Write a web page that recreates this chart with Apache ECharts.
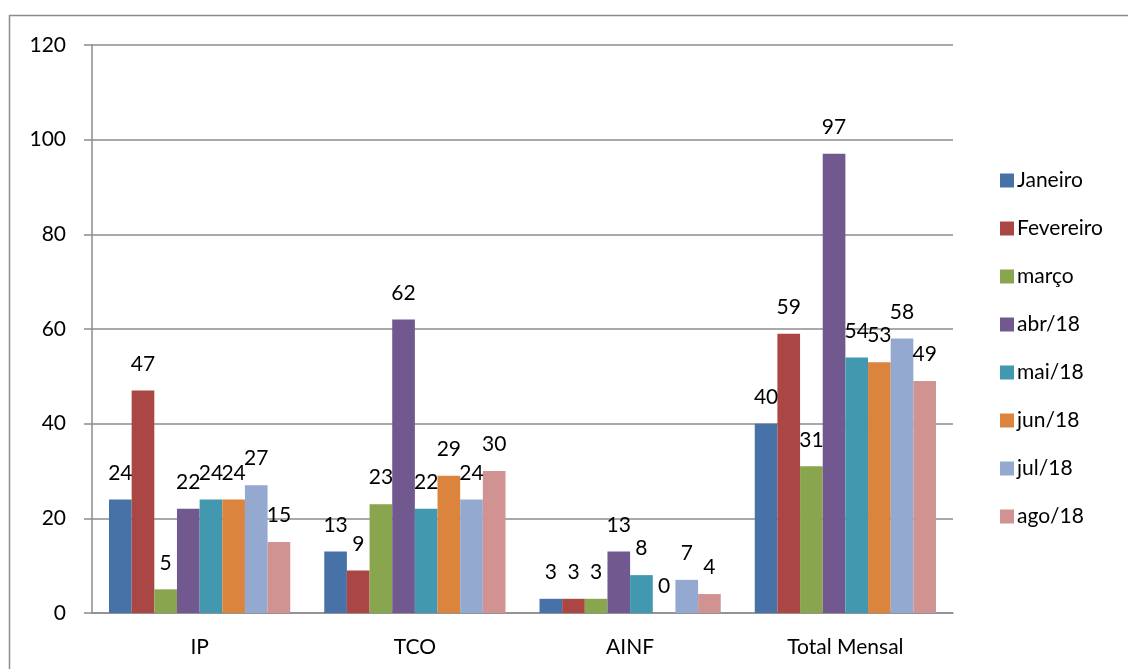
<!DOCTYPE html>
<html><head><meta charset="utf-8">
<script src="https://cdn.jsdelivr.net/npm/echarts@6/dist/echarts.min.js"></script>
<style>html,body{margin:0;padding:0;background:#fff}#c{width:1128px;height:669px}</style>
</head><body><div id="c"></div>
<script>
const categories = ['IP', 'TCO', 'AINF', 'Total Mensal'];
const seriesNames = ['Janeiro', 'Fevereiro', 'março', 'abr/18', 'mai/18', 'jun/18', 'jul/18', 'ago/18'];
const janeiro   = [24, 13, 3, 40];
const fevereiro = [47, 9, 3, 59];
const marco     = [5, 23, 3, 31];
const abr18     = [22, 62, 13, 97];
const mai18     = [24, 22, 8, 54];
const jun18     = [24, 29, 0, 53];
const jul18     = [27, 24, 7, 58];
const ago18     = [15, 30, 4, 49];
const yTicks = [0, 20, 40, 60, 80, 100, 120];

const values = [janeiro, fevereiro, marco, abr18, mai18, jun18, jul18, ago18];
const colors = ['#4672A8', '#AA4643', '#89A54E', '#71588F', '#4198AF', '#DB843D', '#93A9CF', '#D19392'];
const FONT = 'Lato, "Open Sans", sans-serif';
const FS = 21;
const chart = echarts.init(document.getElementById('c'));
chart.setOption({
  animation: false,
  graphic: [{
    type: 'rect', z: -1,
    shape: { x: 9.5, y: 15.5, width: 1300, height: 800 },
    style: { fill: 'none', stroke: '#8c8c8c', lineWidth: 1.5 }
  }],
  grid: { left: 92, right: 175, top: 45, bottom: 56 },
  legend: {
    orient: 'vertical', left: 995, top: 165,
    icon: 'rect', itemWidth: 14, itemHeight: 14, itemGap: 27,
    textStyle: { fontSize: FS, fontFamily: FONT, color: '#000', padding: [0, 0, 0, -2] },
    data: seriesNames
  },
  xAxis: {
    type: 'category', data: categories,
    axisLine: { lineStyle: { color: '#8c8c8c', width: 1.5 } },
    axisTick: { length: 8, lineStyle: { color: '#8c8c8c', width: 1.5 } },
    axisLabel: { fontSize: FS, fontFamily: FONT, color: '#000', margin: 24 }
  },
  yAxis: {
    type: 'value', min: yTicks[0], max: yTicks[yTicks.length - 1], interval: 20,
    axisLine: { show: true, lineStyle: { color: '#8c8c8c', width: 1.5 } },
    axisTick: { show: true, length: 8, lineStyle: { color: '#8c8c8c', width: 1.5 } },
    splitLine: { lineStyle: { color: '#8c8c8c', width: 1.5 } },
    axisLabel: { fontSize: FS, fontFamily: FONT, color: '#000', margin: 26 }
  },
  series: seriesNames.map((n, i) => ({
    name: n, type: 'bar', data: values[i],
    barGap: '0%', barCategoryGap: '15.8%',
    itemStyle: { color: colors[i] },
    label: { show: true, position: 'top', distance: 16, fontSize: FS, fontFamily: FONT, color: '#000' }
  }))
});
</script></body></html>
